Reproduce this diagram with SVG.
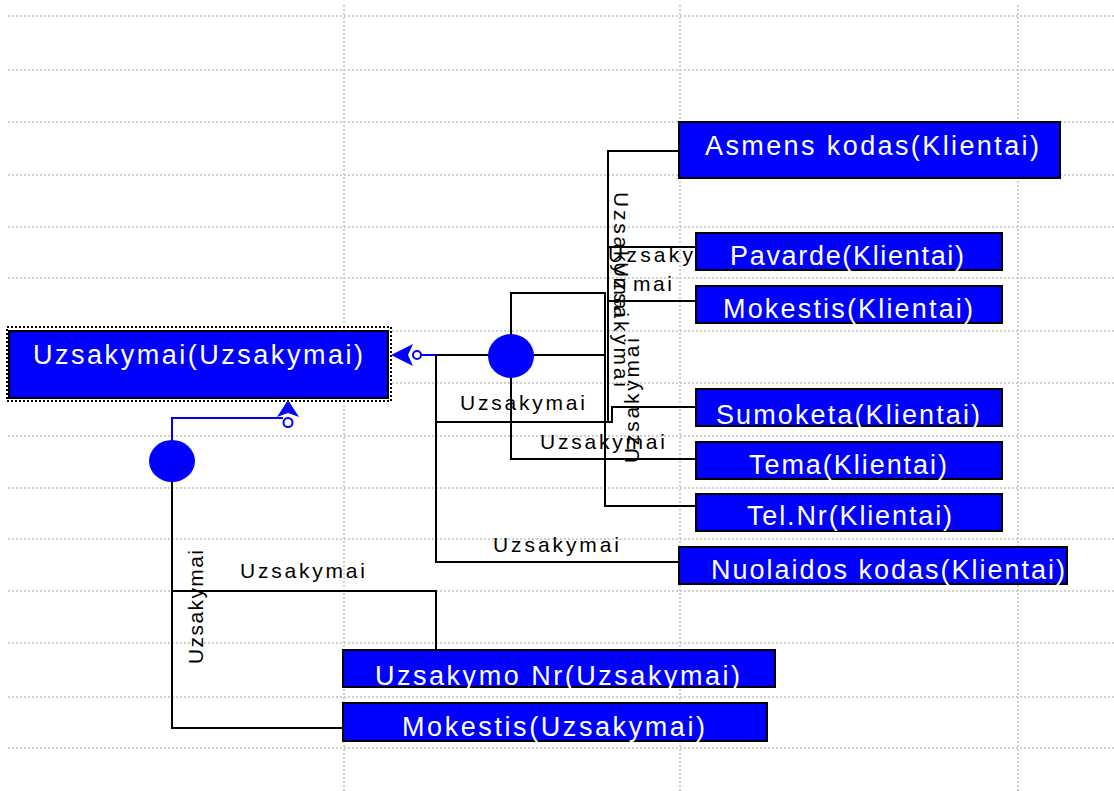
<svg xmlns="http://www.w3.org/2000/svg" width="1114" height="791" viewBox="0 0 1114 791">
<style>
.grid{stroke:#cfcfcf;stroke-width:2;stroke-dasharray:2 2;fill:none}
.node rect{fill:#0000ff;stroke:#000;stroke-width:2}
.node text{fill:#fff;font-family:"Liberation Sans",Arial,sans-serif;font-size:27px}
.conn{stroke:#000;stroke-width:2;fill:none}
.blue{stroke:#0000ff;stroke-width:2;fill:none}
.lbl{fill:#000;font-family:"Liberation Sans",Arial,sans-serif;font-size:21px}
.rel{fill:#0000ff}
</style>
<rect width="1114" height="791" fill="#fff"/>
<g id="grid">
<path class="grid" d="M8,16H1114M8,70H1114M8,122H1114M8,175H1114M8,227H1114M8,278H1114M8,331H1114M8,383H1114M8,436H1114M8,488H1114M8,539H1114M8,591H1114M8,643H1114M8,697H1114M8,748H1114"/>
<path class="grid" d="M344,5V791M680,5V791M1018,5V791"/>
</g>
<g id="connectors">
<path class="conn" d="M679,151H608V422"/>
<path class="conn" d="M696,247H608"/>
<path class="conn" d="M696,301H608"/>
<path class="conn" d="M511,335V293H605V506H696"/>
<path class="conn" d="M534,355H605"/>
<path class="conn" d="M696,407H612V422H436"/>
<path class="conn" d="M511,377V459H696"/>
<path class="conn" d="M488,355H436V562H679"/>
<path class="blue" d="M436,355H421"/>
<path class="conn" d="M172,480V728H342"/>
<path class="conn" d="M172,591H436V649"/>
<path class="blue" d="M172,442V418H283"/>
</g>
<g id="relation1">
<ellipse class="rel" cx="511" cy="356" rx="23" ry="22"/>
<polygon class="rel" points="391,355 413,344 408,355 413,366"/>
<circle cx="417" cy="355" r="4" fill="#fff" stroke="#0000ff" stroke-width="2"/>
</g>
<g id="relation2">
<ellipse class="rel" cx="172" cy="461" rx="23" ry="21"/>
<polygon class="rel" points="288,400 277,417 288,413 299,417"/>
<circle cx="288" cy="422.5" r="4.5" fill="#fff" stroke="#0000ff" stroke-width="2"/>
</g>
<g id="labels" class="lbl">
<text x="460" y="410" textLength="125" lengthAdjust="spacing">Uzsakymai</text>
<text x="540" y="449" textLength="125" lengthAdjust="spacing">Uzsakymai</text>
<text x="493" y="552" textLength="126" lengthAdjust="spacing">Uzsakymai</text>
<text x="240" y="578" textLength="125" lengthAdjust="spacing">Uzsakymai</text>
<text transform="translate(203,664) rotate(-90)" textLength="114" lengthAdjust="spacing">Uzsakymai</text>
<text transform="translate(614,192) rotate(90)" textLength="125" lengthAdjust="spacing">Uzsakymai</text>
<text transform="translate(614,262) rotate(90)" textLength="125" lengthAdjust="spacing">Uzsakymai</text>
<text transform="translate(639,463) rotate(-90)" textLength="125" lengthAdjust="spacing">Uzsakymai</text>
<text x="608" y="262" textLength="85" lengthAdjust="spacing">Uzsaky</text>
<text x="633" y="291" textLength="39" lengthAdjust="spacing">mai</text>
</g>
<g id="n-uzsakymai" class="node">
<rect x="9" y="331" width="379" height="67"/>
<rect x="7" y="327" width="384" height="74" fill="none" stroke="#000" stroke-width="2" stroke-dasharray="2 2" style="fill:none"/>
<text x="33" y="364" textLength="330" lengthAdjust="spacing">Uzsakymai(Uzsakymai)</text>
</g>
<g id="n-asmens" class="node">
<rect x="679" y="122" width="381" height="56"/>
<text x="705" y="155" textLength="334" lengthAdjust="spacing">Asmens kodas(Klientai)</text>
</g>
<g id="n-pavarde" class="node">
<rect x="696" y="233" width="306" height="37"/>
<text x="730" y="265" textLength="234" lengthAdjust="spacing">Pavarde(Klientai)</text>
</g>
<g id="n-mokestis-k" class="node">
<rect x="696" y="286" width="306" height="37"/>
<text x="723" y="318" textLength="250" lengthAdjust="spacing">Mokestis(Klientai)</text>
</g>
<g id="n-sumoketa" class="node">
<rect x="696" y="389" width="306" height="37"/>
<text x="716" y="424" textLength="264" lengthAdjust="spacing">Sumoketa(Klientai)</text>
</g>
<g id="n-tema" class="node">
<rect x="696" y="442" width="306" height="37"/>
<text x="749" y="474" textLength="198" lengthAdjust="spacing">Tema(Klientai)</text>
</g>
<g id="n-telnr" class="node">
<rect x="696" y="494" width="306" height="37"/>
<text x="747" y="525" textLength="205" lengthAdjust="spacing">Tel.Nr(Klientai)</text>
</g>
<g id="n-nuolaidos" class="node">
<rect x="679" y="547" width="388" height="37"/>
<text x="711" y="579" textLength="354" lengthAdjust="spacing">Nuolaidos kodas(Klientai)</text>
</g>
<g id="n-uzsakymonr" class="node">
<rect x="343" y="650" width="432" height="37"/>
<text x="375" y="685" textLength="365" lengthAdjust="spacing">Uzsakymo Nr(Uzsakymai)</text>
</g>
<g id="n-mokestis-u" class="node">
<rect x="343" y="703" width="424" height="38"/>
<text x="402" y="736" textLength="303" lengthAdjust="spacing">Mokestis(Uzsakymai)</text>
</g>
</svg>
